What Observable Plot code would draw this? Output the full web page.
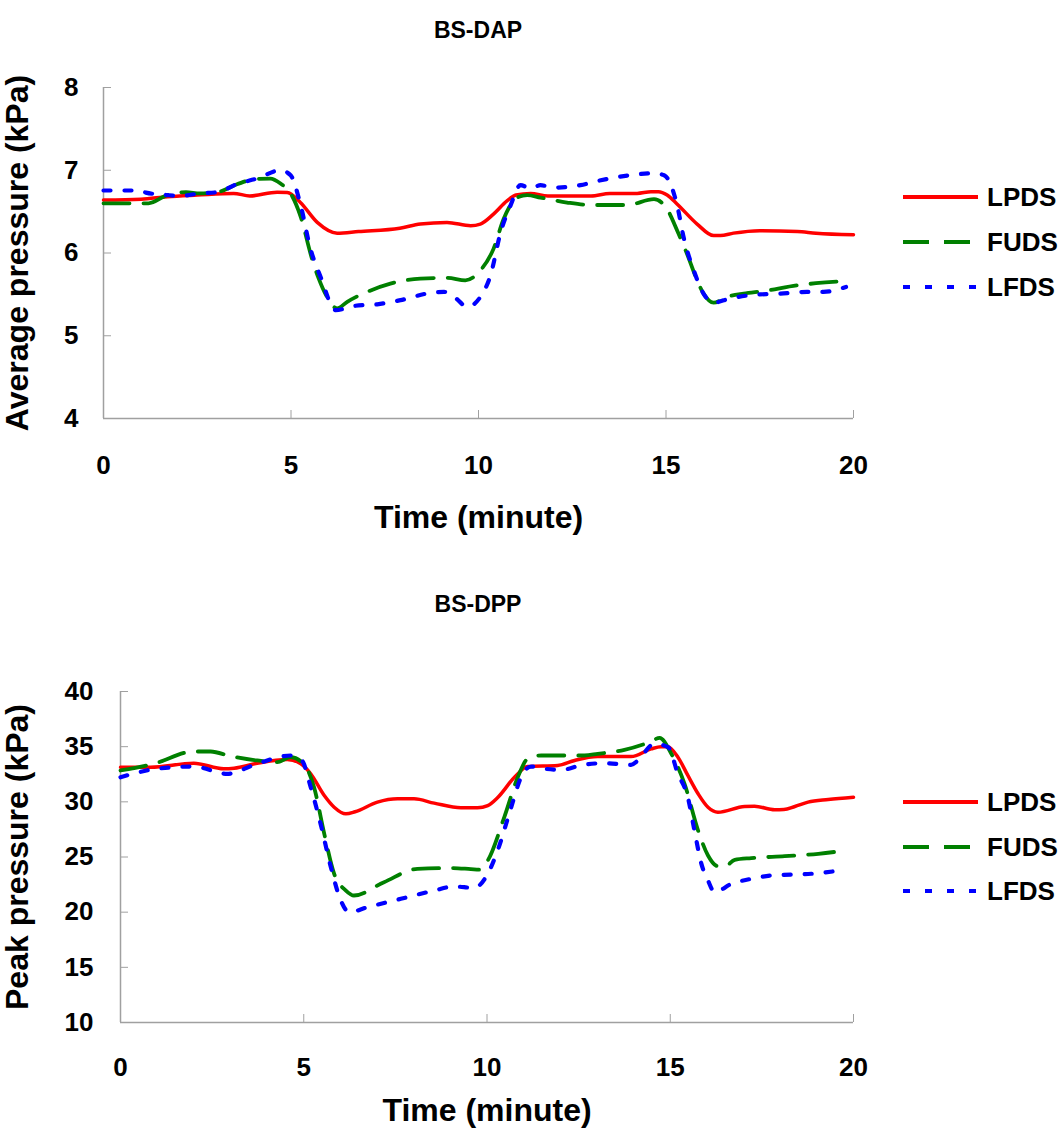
<!DOCTYPE html>
<html>
<head>
<meta charset="utf-8">
<script src="https://cdn.jsdelivr.net/npm/d3@7"></script>
<script src="https://cdn.jsdelivr.net/npm/@observablehq/plot@0.6"></script>
<style>
  body { margin: 0; background: #fff; }
  #wrap { position: relative; width: 1061px; height: 1142px; font-family: "Liberation Sans", Arial, sans-serif; font-weight: bold; color: #000; }
  .abs { position: absolute; }
  .title { font-size: 23px; width: 300px; text-align: center; line-height: 28px; }
  .leg { display: flex; align-items: center; height: 32px; font-size: 26px; }
  .leg svg { margin-right: 9px; }
</style>
</head>
<body>
<div id="wrap"></div>
<script>
// ---------- data ----------
const xTicks = [0, 5, 10, 15, 20];
const seriesNames = ["LPDS", "FUDS", "LFDS"];
const seriesColors = ["#ff0000", "#008000", "#0000ff"];

// BS-DAP (average pressure, kPa)
const dapTicks = [4, 5, 6, 7, 8];
const dapLPDS_t = [0, 1.0, 1.7, 2.5, 3.47, 3.9, 4.63, 4.9, 5.25, 5.7, 6.23, 6.8, 7.9, 8.45, 9.16, 9.79, 10.05, 10.4, 10.76, 11.0, 11.39, 11.85, 13.0, 13.5, 14.23, 14.6, 14.8, 15.03, 15.3, 15.83, 16.27, 16.45, 16.8, 17.5, 18.5, 19.0, 20];
const dapLPDS_v = [6.64, 6.65, 6.68, 6.70, 6.72, 6.69, 6.735, 6.73, 6.61, 6.37, 6.24, 6.26, 6.30, 6.35, 6.37, 6.33, 6.35, 6.47, 6.63, 6.70, 6.72, 6.69, 6.69, 6.72, 6.72, 6.74, 6.74, 6.70, 6.59, 6.35, 6.21, 6.21, 6.24, 6.27, 6.26, 6.24, 6.22];
const dapFUDS_t = [0, 1.2, 1.7, 2.2, 2.57, 3.03, 3.56, 4.0, 4.45, 4.72, 4.99, 5.25, 5.56, 5.74, 5.96, 6.23, 6.5, 7.03, 7.65, 8.45, 9.16, 9.65, 10.05, 10.4, 10.67, 11.03, 11.3, 11.65, 12.36, 13.0, 13.96, 14.68, 15.03, 15.3, 15.56, 15.83, 16.0, 16.27, 16.63, 17.07, 17.6, 18.5, 19.0, 19.8];
const dapFUDS_v = [6.60, 6.60, 6.70, 6.735, 6.72, 6.735, 6.83, 6.89, 6.90, 6.84, 6.72, 6.45, 5.93, 5.69, 5.47, 5.33, 5.41, 5.53, 5.63, 5.69, 5.70, 5.67, 5.79, 6.05, 6.41, 6.67, 6.70, 6.67, 6.61, 6.58, 6.58, 6.65, 6.53, 6.27, 5.99, 5.67, 5.51, 5.40, 5.47, 5.51, 5.54, 5.61, 5.635, 5.66];
const dapLFDS_t = [0, 0.99, 1.13, 1.7, 2.06, 2.57, 3.03, 3.6, 4.1, 4.72, 4.99, 5.25, 5.52, 5.79, 6.19, 6.68, 7.3, 7.92, 8.63, 9.08, 9.35, 9.7, 10.05, 10.32, 10.59, 10.85, 11.12, 11.39, 11.65, 12.0, 12.72, 13.17, 14.05, 14.68, 14.95, 15.3, 15.47, 15.74, 16.0, 16.27, 16.7, 17.25, 18.05, 18.76, 19.2, 19.8];
const dapLFDS_v = [6.755, 6.755, 6.73, 6.70, 6.69, 6.72, 6.735, 6.84, 6.90, 7.00, 6.94, 6.59, 6.05, 5.71, 5.31, 5.36, 5.38, 5.43, 5.51, 5.53, 5.47, 5.35, 5.47, 5.73, 6.25, 6.57, 6.82, 6.78, 6.82, 6.79, 6.82, 6.87, 6.94, 6.965, 6.94, 6.57, 6.19, 5.79, 5.51, 5.40, 5.45, 5.49, 5.51, 5.53, 5.53, 5.59];

// BS-DPP (peak pressure, kPa)
const dppTicks = [10, 15, 20, 25, 30, 35, 40];
const dppLPDS_t = [0, 0.82, 2.0, 2.82, 3.1, 3.73, 4.55, 4.92, 5.19, 5.56, 5.83, 6.15, 6.4, 7.01, 7.56, 8.01, 8.56, 9.29, 9.74, 10.02, 10.3, 10.75, 11.11, 11.93, 12.39, 13.02, 13.93, 14.48, 14.75, 14.93, 15.21, 15.48, 15.76, 16.03, 16.3, 17.03, 17.3, 17.85, 18.1, 18.4, 18.76, 19.31, 20];
const dppLPDS_v = [33.14, 33.14, 33.5, 33.0, 33.05, 33.5, 33.84, 33.45, 32.54, 30.57, 29.51, 28.91, 29.1, 29.97, 30.27, 30.27, 29.88, 29.46, 29.46, 29.66, 30.42, 32.23, 33.2, 33.3, 33.75, 34.1, 34.1, 34.8, 35.0, 35.0, 34.05, 32.39, 30.73, 29.51, 29.06, 29.58, 29.6, 29.28, 29.3, 29.58, 29.97, 30.21, 30.42];
const dppFUDS_t = [0, 0.91, 2.0, 2.46, 3.0, 3.73, 4.28, 4.64, 5.0, 5.28, 5.56, 5.83, 6.15, 6.37, 7.19, 8.1, 9.02, 9.56, 9.8, 10.02, 10.47, 10.84, 11.11, 11.48, 12.66, 13.02, 13.75, 14.48, 14.71, 15.03, 15.39, 15.76, 16.03, 16.3, 16.5, 16.76, 17.21, 18.12, 19.04, 19.8];
const dppFUDS_v = [32.84, 33.45, 34.56, 34.56, 34.14, 33.75, 33.6, 34.05, 33.45, 31.33, 27.1, 23.48, 21.96, 21.51, 22.72, 23.93, 24.0, 23.9, 23.85, 24.68, 28.6, 32.23, 33.9, 34.2, 34.2, 34.35, 34.71, 35.47, 35.8, 34.35, 31.63, 27.4, 25.14, 24.17, 24.17, 24.74, 24.9, 25.08, 25.29, 25.6];
const dppLFDS_t = [0, 1.0, 2.0, 2.91, 3.73, 4.64, 4.95, 5.19, 5.46, 5.74, 6.01, 6.24, 6.74, 7.65, 8.56, 9.1, 9.65, 10.02, 10.29, 10.66, 10.93, 11.2, 11.57, 12.02, 12.66, 13.2, 13.93, 14.1, 14.57, 14.94, 15.21, 15.48, 15.66, 15.85, 16.03, 16.21, 16.67, 17.21, 17.76, 18.85, 19.8];
const dppLFDS_v = [32.23, 33.0, 33.2, 32.54, 33.45, 34.2, 33.75, 31.33, 28.0, 24.08, 21.06, 20.0, 20.45, 21.21, 21.96, 22.33, 22.2, 23.48, 25.59, 29.51, 32.23, 33.2, 33.0, 32.9, 33.38, 33.5, 33.35, 33.7, 35.26, 34.96, 32.54, 30.42, 27.4, 24.38, 22.87, 21.81, 22.57, 23.02, 23.32, 23.48, 23.85];

// ---------- styles ----------
const lineStyles = [
  { stroke: seriesColors[0], strokeWidth: 3.5, dash: null, legendDash: null },
  { stroke: seriesColors[1], strokeWidth: 3.8, dash: "26,14", legendDash: "26,15" },
  { stroke: seriesColors[2], strokeWidth: 4.2, dash: "7,14", legendDash: "7,15" }
];
const AXIS_GRAY = "#a0a0a0";
const FONT = "'Liberation Sans', Arial, sans-serif";

function rows(t, v) { return t.map((x, i) => ({ t: x, v: v[i] })); }

function makeChart(cfg) {
  const { series, yDomain, yTicks, yLabel, marginLeft, marginTop, plotH, marginBottom, yPad, xPad, yLabelX, xLabelDy } = cfg;
  const W = 1061;
  return Plot.plot({
    width: W,
    height: marginTop + plotH + marginBottom,
    marginLeft, marginRight: W - 853, marginTop, marginBottom,
    style: { fontFamily: FONT, fontWeight: "bold", fontSize: "26px", color: "#000", background: "transparent", overflow: "visible" },
    x: { domain: [0, 20] },
    y: { domain: yDomain },
    marks: [
      Plot.axisY({ ticks: yTicks, tickSize: -8, tickPadding: yPad, stroke: AXIS_GRAY, fill: "#000", label: null, fontSize: 26, tickFormat: d => d }),
      Plot.axisX({ ticks: xTicks, tickSize: -8, tickPadding: xPad, stroke: AXIS_GRAY, fill: "#000", label: null, fontSize: 26, tickFormat: d => d }),
      Plot.ruleX([0], { stroke: AXIS_GRAY, strokeWidth: 1.5 }),
      Plot.ruleY([yDomain[0]], { stroke: AXIS_GRAY, strokeWidth: 1.5 }),
      ...series.map((s, i) => Plot.line(rows(s.t, s.v), {
        x: "t", y: "v", curve: "monotone-x",
        stroke: lineStyles[i].stroke, strokeWidth: lineStyles[i].strokeWidth,
        strokeDasharray: lineStyles[i].dash
      })),
      Plot.text([yLabel], { frameAnchor: "left", dx: yLabelX - marginLeft, textAnchor: "middle", rotate: -90, fontSize: 32, fontWeight: "bold", fill: "#000" }),
      Plot.text(["Time (minute)"], { frameAnchor: "bottom", dy: xLabelDy, fontSize: 32, fontWeight: "bold", fill: "#000" })
    ]
  });
}

const wrap = document.getElementById("wrap");
function place(el, left, top) { el.classList.add("abs"); el.style.left = left + "px"; el.style.top = top + "px"; wrap.appendChild(el); return el; }

function addTitle(text, cy) {
  const d = document.createElement("div");
  d.className = "title";
  d.textContent = text;
  place(d, 478 - 150, cy - 14);
}

function addLegend(cys) {
  seriesNames.forEach((name, i) => {
    const row = document.createElement("div");
    row.className = "leg";
    const ls = lineStyles[i];
    row.innerHTML = `<svg width="75" height="10"><line x1="0" x2="75" y1="5" y2="5" stroke="${ls.stroke}" stroke-width="4" ${ls.legendDash ? `stroke-dasharray="${ls.legendDash}"` : ""}/></svg><span>${name}</span>`;
    place(row, 903, cys[i] - 16);
  });
}

// Chart 1: BS-DAP
addTitle("BS-DAP", 30);
const c1 = makeChart({
  series: [{ t: dapLPDS_t, v: dapLPDS_v }, { t: dapFUDS_t, v: dapFUDS_v }, { t: dapLFDS_t, v: dapLFDS_v }],
  yDomain: [4, 8], yTicks: dapTicks, yLabel: "Average pressure (kPa)",
  marginLeft: 103, marginTop: 37, plotH: 331, marginBottom: 122,
  yPad: 33, xPad: 45, yLabelX: 17, xLabelDy: 109
});
place(c1, 0, 50);
addLegend([197, 242, 287]);

// Chart 2: BS-DPP
addTitle("BS-DPP", 604);
const c2 = makeChart({
  series: [{ t: dppLPDS_t, v: dppLPDS_v }, { t: dppFUDS_t, v: dppFUDS_v }, { t: dppLFDS_t, v: dppLFDS_v }],
  yDomain: [10, 40], yTicks: dppTicks, yLabel: "Peak pressure (kPa)",
  marginLeft: 120, marginTop: 31, plotH: 331, marginBottom: 120,
  yPad: 35, xPad: 43, yLabelX: 17, xLabelDy: 98
});
place(c2, 0, 660);
addLegend([802, 847, 891]);
</script>
</body>
</html>
